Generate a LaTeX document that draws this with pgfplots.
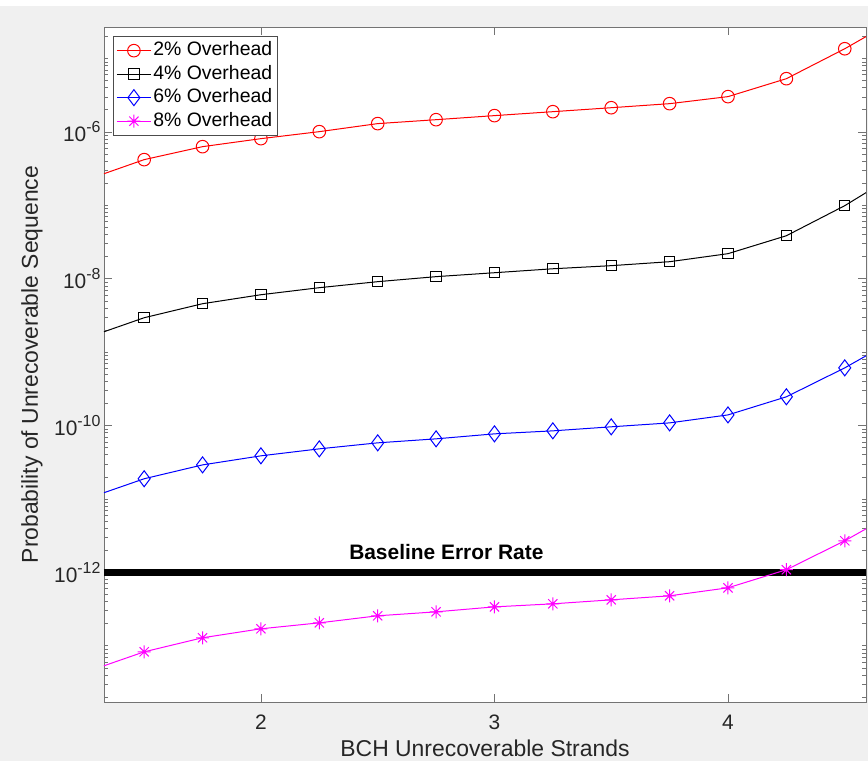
\documentclass[border=0pt]{standalone}
\usepackage{fontspec}
\setmainfont{Liberation Sans}
\usepackage{pgfplots}
\pgfplotsset{compat=1.18}
\definecolor{figgray}{RGB}{240,240,240}
\definecolor{axgray}{RGB}{38,38,38}
\definecolor{mred}{RGB}{255,0,0}
\definecolor{mblue}{RGB}{0,0,255}
\definecolor{mmag}{RGB}{255,0,255}
\newcommand{\tp}[1]{10\raisebox{9bp}{\fontsize{16}{16}\selectfont #1}}
\pgfdeclareplotmark{mstar}{%
  \pgfpathmoveto{\pgfqpoint{0pt}{\pgfplotmarksize}}\pgfpathlineto{\pgfqpoint{0pt}{-\pgfplotmarksize}}%
  \pgfpathmoveto{\pgfqpoint{\pgfplotmarksize}{0pt}}\pgfpathlineto{\pgfqpoint{-\pgfplotmarksize}{0pt}}%
  \pgfpathmoveto{\pgfqpoint{.7071\pgfplotmarksize}{.7071\pgfplotmarksize}}\pgfpathlineto{\pgfqpoint{-.7071\pgfplotmarksize}{-.7071\pgfplotmarksize}}%
  \pgfpathmoveto{\pgfqpoint{.7071\pgfplotmarksize}{-.7071\pgfplotmarksize}}\pgfpathlineto{\pgfqpoint{-.7071\pgfplotmarksize}{.7071\pgfplotmarksize}}%
  \pgfusepathqstroke}
\begin{document}
\begin{tikzpicture}
\fill[figgray] (-104bp,-59bp) rectangle (764bp,702bp);
\fill[white] (-104bp,696bp) rectangle (764bp,702bp);
\useasboundingbox (-104bp,-59bp) rectangle (764bp,702bp);
\begin{axis}[
  at={(0,0)}, anchor=south west,
  scale only axis, width=762bp, height=675bp,
  axis background/.style={fill=white},
  xmin=1.328, xmax=4.591,
  ymode=log, ymin=1.72e-14, ymax=2.69e-5,
  xtick={2,3,4}, xticklabels={2,3,4},
  ytick={1e-12,1e-10,1e-8,1e-6},
  yticklabels={\tp{-12},\tp{-10},\tp{-8},\tp{-6}},
  minor ytick={2e-14,3e-14,4e-14,5e-14,6e-14,7e-14,8e-14,9e-14,1e-13,
    2e-13,3e-13,4e-13,5e-13,6e-13,7e-13,8e-13,9e-13,
    2e-12,3e-12,4e-12,5e-12,6e-12,7e-12,8e-12,9e-12,1e-11,
    2e-11,3e-11,4e-11,5e-11,6e-11,7e-11,8e-11,9e-11,
    2e-10,3e-10,4e-10,5e-10,6e-10,7e-10,8e-10,9e-10,1e-9,
    2e-9,3e-9,4e-9,5e-9,6e-9,7e-9,8e-9,9e-9,
    2e-8,3e-8,4e-8,5e-8,6e-8,7e-8,8e-8,9e-8,1e-7,
    2e-7,3e-7,4e-7,5e-7,6e-7,7e-7,8e-7,9e-7,
    2e-6,3e-6,4e-6,5e-6,6e-6,7e-6,8e-6,9e-6,1e-5,2e-5},
  tick align=inside, xtick pos=both, ytick pos=both,
  major tick length=8bp, minor tick length=4bp,
  tick style={black!55, line width=0.8bp},
  axis line style={black!55, line width=0.8bp},
  tick label style={font=\fontsize{21}{21}\selectfont, text=axgray},
  xticklabel style={anchor=base, yshift=-27.5bp},
  label style={font=\fontsize{23}{23}\selectfont, text=axgray},
  xlabel={BCH Unrecoverable Strands},
  ylabel={Probability of Unrecoverable Sequence},
  xlabel style={at={(axis description cs:0.5,0)}, anchor=base, yshift=-54bp},
  ylabel style={at={(axis description cs:0,0.5)}, anchor=center, yshift=72bp},
  legend cell align=left,
  legend style={at={(axis description cs:0,1)}, anchor=north west, xshift=9bp, yshift=-9bp,
    draw=black!70, line width=0.8bp, fill=white, inner xsep=3bp, inner ysep=2.5bp,
    row sep=0bp, font=\fontsize{19.5}{19.5}\selectfont,
    nodes={inner xsep=2bp, inner ysep=1.5bp, text height=15.5bp, text depth=5bp}},
  legend image code/.code={\draw[#1, mark indices={2}] plot coordinates {(0bp,0bp)(17bp,0bp)(34bp,0bp)};},
  every axis plot/.append style={line width=1bp},
]
\addplot[black, line width=7bp, forget plot, mark=none] coordinates {(1.328,1e-12)(4.591,1e-12)};
\addplot[mred, mark=o, mark size=6.3bp, mark options={solid}, mark indices={2,...,14}] coordinates {
(1.328,2.70e-7)(1.5,4.20e-7)(1.75,6.31e-7)(2,8.11e-7)(2.25,1.01e-6)(2.5,1.30e-6)(2.75,1.47e-6)
(3,1.67e-6)(3.25,1.89e-6)(3.5,2.14e-6)(3.75,2.43e-6)(4,3.03e-6)(4.25,5.32e-6)(4.5,1.36e-5)(4.591,1.99e-5)};
\addlegendentry{2\% Overhead}
\addplot[black, mark=square, mark size=5.2bp, mark options={solid}, mark indices={2,...,14}] coordinates {
(1.328,1.90e-9)(1.5,2.95e-9)(1.75,4.58e-9)(2,6.07e-9)(2.25,7.57e-9)(2.5,9.14e-9)(2.75,1.07e-8)
(3,1.21e-8)(3.25,1.37e-8)(3.5,1.51e-8)(3.75,1.71e-8)(4,2.20e-8)(4.25,3.86e-8)(4.5,9.91e-8)(4.591,1.49e-7)};
\addlegendentry{4\% Overhead}
\addplot[mblue, mark=diamond, mark size=8bp, mark options={solid}, mark indices={2,...,14}] coordinates {
(1.328,1.22e-11)(1.5,1.89e-11)(1.75,2.92e-11)(2,3.88e-11)(2.25,4.83e-11)(2.5,5.83e-11)(2.75,6.61e-11)
(3,7.73e-11)(3.25,8.49e-11)(3.5,9.64e-11)(3.75,1.09e-10)(4,1.40e-10)(4.25,2.47e-10)(4.5,6.12e-10)(4.591,8.93e-10)};
\addlegendentry{6\% Overhead}
\addplot[mmag, mark=mstar, mark size=6.5bp, mark options={solid}, mark indices={2,...,14}] coordinates {
(1.328,5.36e-14)(1.5,8.30e-14)(1.75,1.29e-13)(2,1.71e-13)(2.25,2.06e-13)(2.5,2.57e-13)(2.75,2.91e-13)
(3,3.40e-13)(3.25,3.74e-13)(3.5,4.24e-13)(3.75,4.81e-13)(4,6.18e-13)(4.25,1.09e-12)(4.5,2.70e-12)(4.591,3.93e-12)};
\addlegendentry{8\% Overhead}
\node[font=\bfseries\fontsize{21}{21}\selectfont, anchor=base, yshift=12.5bp] at (axis cs:2.794,1e-12) {Baseline Error Rate};
\end{axis}
\end{tikzpicture}
\end{document}
